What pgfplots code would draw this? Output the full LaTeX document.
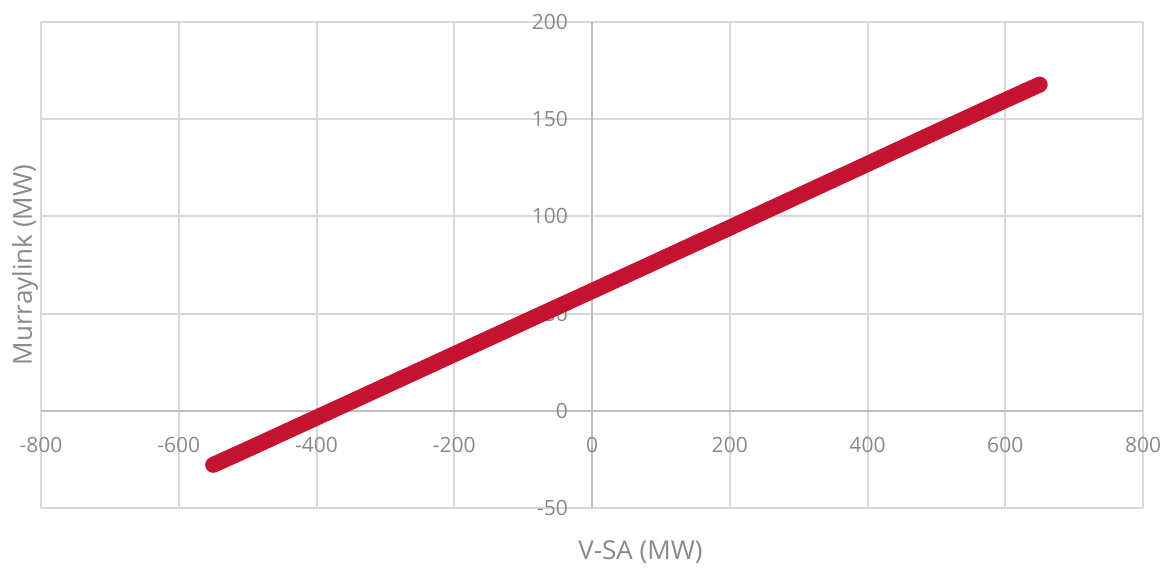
\documentclass[border=0pt]{standalone}
\usepackage{pgfplots}
\pgfplotsset{compat=1.18}
\usepackage{fontspec}
\setmainfont{Open Sans}
\definecolor{txtgray}{RGB}{137,137,137}
\definecolor{gridgray}{RGB}{217,217,217}
\definecolor{axgray}{RGB}{191,191,191}
\definecolor{linered}{RGB}{196,18,48}
\begin{document}
\begin{tikzpicture}
\begin{axis}[
  scale only axis,
  width=551pt, height=243pt,
  xmin=-800, xmax=800, ymin=-50, ymax=200,
  axis lines=middle,
  hide obscured x ticks=false,
  hide obscured y ticks=false,
  axis line style={draw=axgray, line width=1pt, -},
  xtick={-800,-600,...,800},
  ytick={-50,0,50,100,150,200},
  xticklabels={-800,-600,-400,-200,0,200,400,600,800},
  yticklabels={-50,0,50,100,150,200},
  major tick length=0pt,
  grid=major,
  major grid style={draw=gridgray, line width=1pt},
  ticklabel style={font=\fontsize{10.5}{12}\selectfont, text=txtgray},
  xticklabel style={anchor=north, yshift=-9.5pt},
  yticklabel style={anchor=east, xshift=-8.5pt},
  xlabel={V-SA (MW)},
  ylabel={Murraylink (MW)},
  label style={font=\fontsize{13}{15}\selectfont, text=txtgray},
  xlabel style={at={(axis description cs:0.544,-0.0905)}, anchor=center},
  ylabel style={at={(axis description cs:-0.0145,0.5)}, anchor=center, rotate=90},
  clip=false,
]
\addplot[draw=linered, line width=8pt, line cap=round, line join=round] coordinates {
(-550,-27.8) (-500,-19.8) (-400,-3.5) (-300,12.8) (-200,29.1) (-100,45.4)
(0,61.6) (100,77.9) (200,94.2) (300,110.6) (400,127.0) (500,143.5)
(600,159.8) (650,167.8)
};
\coordinate (bl) at (rel axis cs:0,0);
\coordinate (tr) at (rel axis cs:1,1);
\end{axis}
\pgfresetboundingbox
\path ([shift={(-20.5pt,-30.5pt)}]bl) rectangle ([shift={(12.5pt,11pt)}]tr);
\end{tikzpicture}
\end{document}
